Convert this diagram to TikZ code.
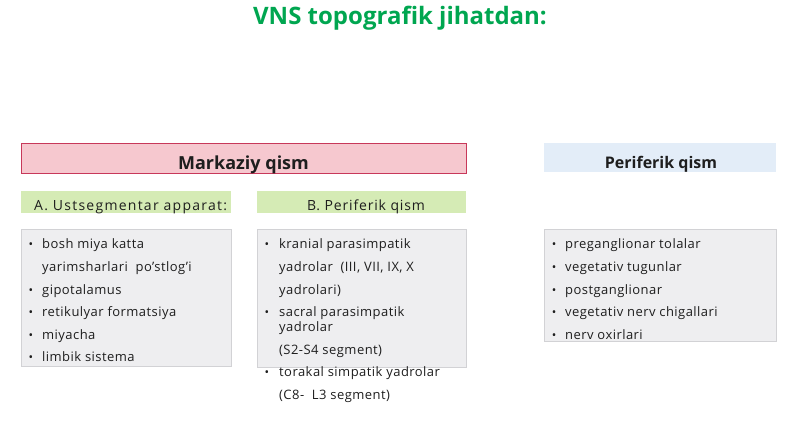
\documentclass[tikz,border=0pt]{standalone}
\usepackage{fontspec}
\setmainfont{Open Sans}
\definecolor{titlegreen}{HTML}{00A650}
\definecolor{redfill}{HTML}{F6C8CF}
\definecolor{redline}{HTML}{C8385A}
\definecolor{greenfill}{HTML}{D5EBB5}
\definecolor{bluefill}{HTML}{E3EDF8}
\definecolor{grayfill}{HTML}{EEEEF0}
\definecolor{grayline}{HTML}{D2D2D5}
\definecolor{txt}{HTML}{1E1E1E}
\tikzset{
  itemtxt/.style={anchor=base west, inner sep=0pt, font=\fontsize{13}{15}\selectfont\addfontfeature{LetterSpace=3.5}, text=txt},
  bul/.style={anchor=base, inner sep=0pt, font=\fontsize{12}{14}\selectfont, text=txt},
  listbox/.style={draw=grayline, fill=grayfill, line width=0.8pt},
  subhead/.style={inner sep=0pt, font=\fontsize{14}{16}\selectfont\addfontfeature{LetterSpace=6}, text=txt},
}
\begin{document}
\begin{tikzpicture}[x=1pt,y=-1pt]
\useasboundingbox (0,0) rectangle (800,423);
% title
\node[inner sep=0pt, text=titlegreen, font=\fontsize{24}{28}\selectfont\bfseries] (title) at (400,18) {VNS topografik jihatdan:};
% headers
\draw[fill=redfill, draw=redline, line width=1pt] (21,143) rectangle (466,173);
\node[inner sep=0pt, anchor=base, font=\fontsize{18}{21}\selectfont\bfseries, text=txt] (mark) at (243.5,169) {Markaziy qism};
\fill[bluefill] (544,143) rectangle (776,172);
\node[inner sep=0pt, anchor=base, font=\fontsize{16}{19}\selectfont\bfseries, text=txt] (perif) at (661,168) {Periferik qism};
\fill[greenfill] (21,191) rectangle (231,213);
\node[subhead, anchor=base west, font=\fontsize{14}{16}\selectfont\addfontfeature{LetterSpace=9}] (aU) at (34,210) {A. Ustsegmentar apparat:};
\fill[greenfill] (257,191) rectangle (466,213);
\node[subhead, anchor=base] (bP) at (366,210) {B. Periferik qism};
% list boxes
\draw[listbox] (21,229) rectangle (231,366);
\draw[listbox] (257,229) rectangle (466,367);
\draw[listbox] (544,229) rectangle (776,341);
% box 1
\node[bul] (b11) at (31,248) {•}; \node[itemtxt] (t11) at (42,248) {bosh miya katta};
\node[itemtxt] (t11b) at (42,271) {yarimsharlari\ \ po’stlog’i};
\node[bul] (b12) at (31,294) {•}; \node[itemtxt] (t12) at (42,294) {gipotalamus};
\node[bul] (b13) at (31,316) {•}; \node[itemtxt] (t13) at (42,316) {retikulyar formatsiya};
\node[bul] (b14) at (31,339) {•}; \node[itemtxt] (t14) at (42,339) {miyacha};
\node[bul] (b15) at (31,361) {•}; \node[itemtxt] (t15) at (42,361) {limbik sistema};
% box 2
\node[bul] (b21) at (267,248) {•}; \node[itemtxt] (t21) at (279,248) {kranial parasimpatik};
\node[itemtxt] (t21b) at (279,271) {yadrolar\ \ (III, VII, IX, X};
\node[itemtxt] (t21c) at (279,294) {yadrolari)};
\node[bul] (b22) at (267,316) {•}; \node[itemtxt] (t22) at (279,316) {sacral parasimpatik};
\node[itemtxt] (t22b) at (279,331) {yadrolar};
\node[itemtxt] (t22c) at (279,354) {(S2-S4 segment)};
\node[bul] (b23) at (267,376) {•}; \node[itemtxt] (t23) at (279,376) {torakal simpatik yadrolar};
\node[itemtxt] (t23b) at (279,399) {(C8-\ \ L3 segment)};
% box 3
\node[bul] (b31) at (554,248) {•}; \node[itemtxt] (t31) at (565,248) {preganglionar tolalar};
\node[bul] (b32) at (554,271) {•}; \node[itemtxt] (t32) at (565,271) {vegetativ tugunlar};
\node[bul] (b33) at (554,294) {•}; \node[itemtxt] (t33) at (565,294) {postganglionar};
\node[bul] (b34) at (554,316) {•}; \node[itemtxt] (t34) at (565,316) {vegetativ nerv chigallari};
\node[bul] (b35) at (554,339) {•}; \node[itemtxt] (t35) at (565,339) {nerv oxirlari};
\end{tikzpicture}
\end{document}
